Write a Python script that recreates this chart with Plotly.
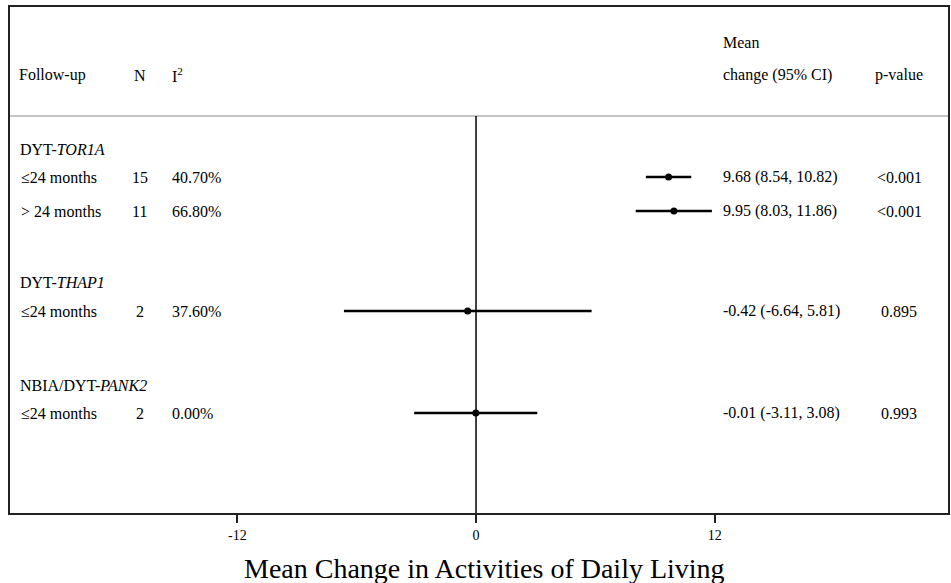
import plotly.graph_objects as go

# ---- data ----
groups = ["DYT-<i>TOR1A</i>", "DYT-<i>THAP1</i>", "NBIA/DYT-<i>PANK2</i>"]
row_group = [0, 0, 1, 2]
followup = ["≤24 months", "> 24 months", "≤24 months", "≤24 months"]
n_studies = [15, 11, 2, 2]
i2 = ["40.70%", "66.80%", "37.60%", "0.00%"]
mean_change = [9.68, 9.95, -0.42, -0.01]
ci_low = [8.54, 8.03, -6.64, -3.11]
ci_high = [10.82, 11.86, 5.81, 3.08]
p_values = ["<0.001", "<0.001", "0.895", "0.993"]
tick_vals = [-12, 0, 12]
tick_text = ["-12", "0", "12"]

# ---- layout positions (vertical, in pixel-like axis units) ----
group_y = [149, 282, 385]
row_y = [177, 211, 311, 413]
header_y = 75
header_top_y = 42
sep_y = 116
y_bottom, y_top = 513, 7
x_range = [-23.43, 23.73]

FONT = "Liberation Serif, Times New Roman, serif"

def px(xp):
    # pixel x (page) -> paper fraction of plot area (10..950)
    return (xp - 10) / 940.0

fig = go.Figure()

# CI lines
xs, ys = [], []
for lo, hi, y in zip(ci_low, ci_high, row_y):
    xs += [lo, hi, None]
    ys += [y, y, None]
fig.add_trace(go.Scatter(x=xs, y=ys, mode="lines",
                         line=dict(color="black", width=2.5),
                         hoverinfo="skip", showlegend=False))
# point estimates
fig.add_trace(go.Scatter(x=mean_change, y=row_y, mode="markers",
                         marker=dict(color="black", size=7),
                         showlegend=False))

ann = []
def text(xp, y, s, anchor="left", size=16):
    ann.append(dict(x=px(xp), xref="paper", y=y, yref="y", text=s,
                    showarrow=False, xanchor=anchor, yanchor="middle",
                    font=dict(family=FONT, size=size, color="black")))

# headers
text(17, header_y, "Follow-up")
text(140, header_y, "N", "center")
text(170, header_y, "I<sup>2</sup>")
text(723, header_top_y, "Mean")
text(723, header_y, "change (95% CI)")
text(901, header_y, "p-value", "center")

for g, y in zip(groups, group_y):
    text(18, y, g)

for i in range(len(followup)):
    y = row_y[i]
    text(19, y, followup[i])
    text(140, y, str(n_studies[i]), "center")
    text(170, y, i2[i])
    text(723, y, f"{mean_change[i]:.2f} ({ci_low[i]:.2f}, {ci_high[i]:.2f})")
    text(901, y, p_values[i], "center")

# axis title
ann.append(dict(x=px(486), xref="paper", y=(y_bottom - 568) / (y_bottom - y_top), yref="paper",
                text="Mean Change in Activities of Daily Living",
                showarrow=False, xanchor="center", yanchor="middle",
                font=dict(family=FONT, size=28, color="black")))

shapes = [
    dict(type="line", xref="paper", yref="y", x0=0, x1=1, y0=sep_y, y1=sep_y,
         line=dict(color="#c4c4c4", width=2)),
    dict(type="line", xref="x", yref="y", x0=0, x1=0, y0=sep_y, y1=y_bottom,
         line=dict(color="black", width=1.5)),
]

fig.update_layout(
    width=951, height=583,
    margin=dict(l=10, r=1, t=7, b=70),
    paper_bgcolor="white", plot_bgcolor="white",
    annotations=ann, shapes=shapes,
    xaxis=dict(range=x_range, tickvals=tick_vals, ticktext=tick_text,
               ticks="outside", ticklen=8, tickwidth=1.5, tickcolor="#222",
               showline=True, linecolor="#222", linewidth=1.5, mirror=True,
               showgrid=False, zeroline=False,
               tickfont=dict(family=FONT, size=14, color="black")),
    yaxis=dict(range=[y_bottom, y_top], showticklabels=False, ticks="",
               showline=True, linecolor="#222", linewidth=1.5, mirror=True,
               showgrid=False, zeroline=False),
    showlegend=False,
)

fig.write_html("out.html", config={"displayModeBar": False},
               post_script="document.body.style.margin='0';document.body.style.overflow='hidden';")
